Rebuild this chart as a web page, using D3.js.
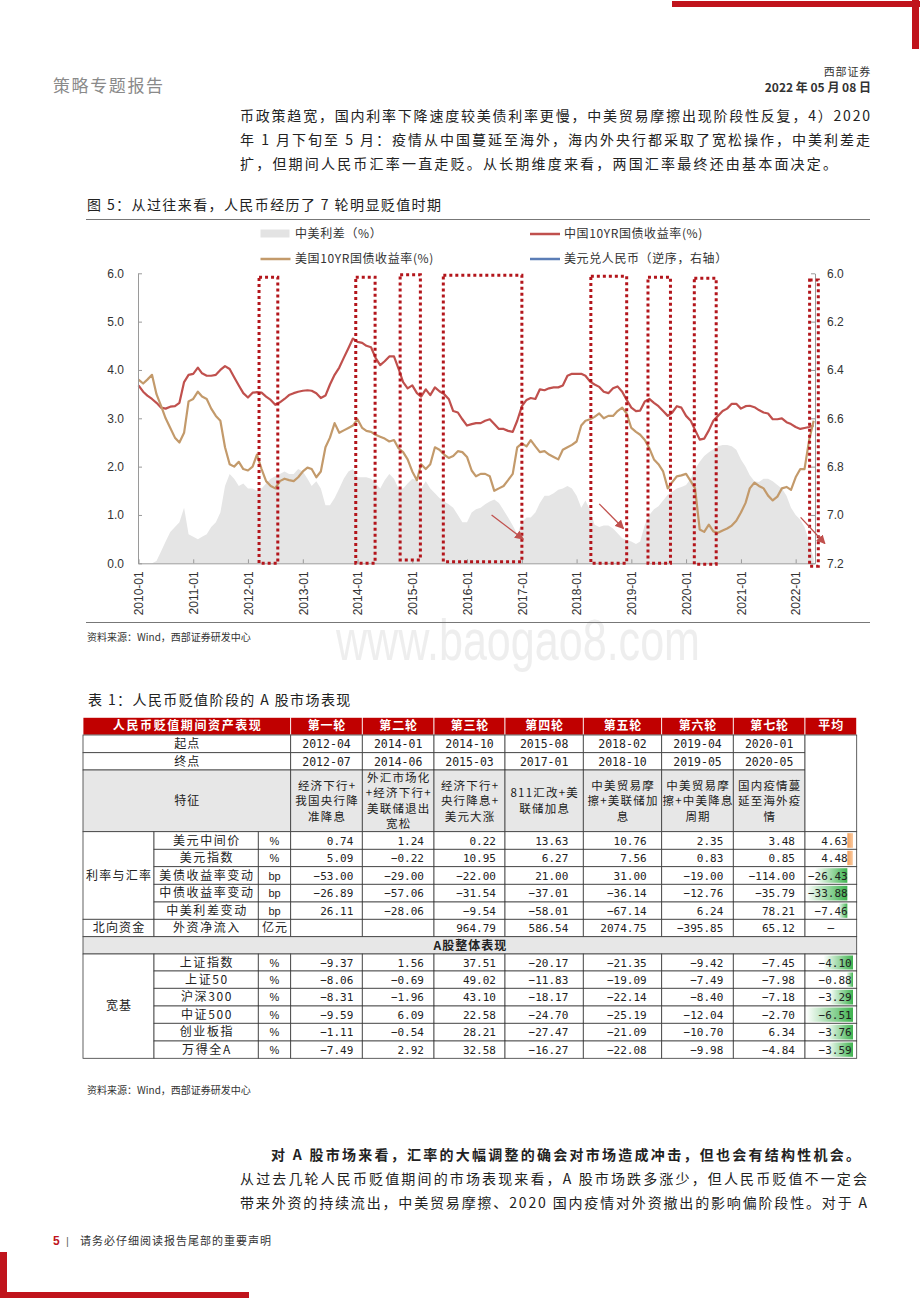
<!DOCTYPE html>
<html><head><meta charset="utf-8">
<script src="https://cdn.jsdelivr.net/npm/d3@7"></script>
<style>body{margin:0;background:#fff} svg{display:block}</style>
</head><body>
<svg id="page" width="920" height="1302"></svg>
<script>
// ---------------- DATA ----------------
const firstMonth = "2010-01", lastMonth = "2022-05";
const cn10y = [3.68,3.55,3.47,3.40,3.32,3.22,3.20,3.24,3.25,3.32,3.75,3.90,3.92,4.05,3.93,3.88,3.88,3.90,4.00,4.08,4.02,3.85,3.68,3.52,3.43,3.53,3.54,3.53,3.45,3.38,3.28,3.33,3.40,3.48,3.52,3.55,3.57,3.58,3.57,3.52,3.42,3.47,3.70,3.90,4.05,4.25,4.45,4.65,4.58,
4.56,4.50,4.47,4.25,4.10,4.18,4.28,4.28,4.03,3.75,3.62,3.68,3.52,3.45,3.60,3.48,3.64,3.56,3.50,3.40,3.15,3.12,2.98,2.85,2.88,2.90,2.90,2.95,2.98,2.88,2.78,2.78,2.74,2.72,2.95,3.25,3.38,3.42,3.40,3.60,3.58,3.62,3.64,3.64,3.68,3.88,3.92,3.92,
3.92,3.88,3.76,3.70,3.65,3.55,3.52,3.62,3.66,3.55,3.38,3.22,3.15,3.16,3.35,3.40,3.32,3.25,3.15,3.05,3.12,3.25,3.22,3.05,2.95,2.76,2.56,2.58,2.75,2.95,3.05,3.15,3.20,3.30,3.30,3.20,3.25,3.26,3.23,3.17,3.12,3.10,2.98,2.98,3.00,2.92,2.88,2.82,2.78,2.80,2.82,2.85];
const us10y = [3.80,3.72,3.80,3.90,3.50,3.25,3.00,2.80,2.60,2.50,2.70,3.35,3.40,3.55,3.45,3.40,3.20,3.05,2.95,2.40,2.05,2.00,2.10,1.95,1.92,2.00,2.25,1.95,1.70,1.60,1.55,1.70,1.75,1.72,1.70,1.78,1.90,1.98,1.95,1.78,1.90,2.40,2.60,2.90,2.70,2.75,2.80,2.85,2.98,
2.80,2.74,2.72,2.66,2.62,2.58,2.52,2.55,2.38,2.30,2.15,1.90,1.72,2.05,1.95,2.05,2.40,2.35,2.25,2.18,2.22,2.32,2.30,2.20,1.92,1.80,1.85,1.85,1.80,1.50,1.55,1.60,1.72,1.85,2.40,2.48,2.42,2.55,2.42,2.30,2.32,2.25,2.20,2.15,2.35,2.40,2.45,2.52,
2.85,2.95,2.98,3.03,3.10,3.00,3.05,3.05,3.15,3.22,3.10,2.80,2.72,2.66,2.55,2.38,2.15,2.05,1.90,1.55,1.68,1.80,1.82,1.85,1.70,1.55,0.70,0.65,0.80,0.66,0.63,0.68,0.72,0.78,0.88,1.05,1.25,1.55,1.67,1.60,1.55,1.40,1.30,1.38,1.55,1.58,1.52,1.78,1.95,1.95,2.55,2.95];
const spreadCU = [0,0,0,0,0.05,0.25,0.45,0.65,0.75,0.85,1.15,0.6,0.55,0.5,0.55,0.6,0.75,0.85,1.05,1.6,1.85,1.75,1.6,1.65,1.55,1.55,1.5,1.55,1.65,1.75,1.8,1.85,1.9,1.85,1.85,1.95,1.9,1.75,1.6,1.7,1.55,1.2,1.2,1.35,1.55,1.75,1.9,1.95,1.78,
1.78,1.78,1.75,1.65,1.55,1.72,1.85,1.75,1.55,1.55,1.65,1.75,1.72,1.55,1.70,1.55,1.45,1.35,1.28,1.22,1.15,1.00,0.85,0.85,1.05,1.12,1.15,1.22,1.28,1.32,1.25,1.10,0.95,0.78,0.60,0.85,0.95,0.95,1.05,1.25,1.40,1.40,1.45,1.52,1.55,1.60,1.55,1.40,1.15,
1.30,1.10,0.80,0.75,0.78,0.78,0.72,0.62,0.52,0.48,0.45,0.40,0.45,0.80,1.00,1.12,1.18,1.30,1.42,1.48,1.55,1.58,1.62,1.75,1.95,2.10,2.22,2.30,2.36,2.42,2.45,2.45,2.42,2.35,2.15,2.00,1.82,1.70,1.68,1.75,1.75,1.70,1.62,1.55,1.40,1.15,1.00,0.90,0.75,0.45,0.10];
// depreciation windows (dates, left-axis values)
const boxStart = ["2012-03-15","2013-12-20","2014-10-12","2015-07-27","2018-04-06","2019-04-22","2020-02-25","2022-04-04"];
const boxEnd   = ["2012-07-18","2014-04-28","2015-02-24","2017-01-01","2018-12-01","2019-09-19","2020-07-20","2022-06-01"];
const boxTop   = [5.92,5.92,5.97,5.96,5.94,5.92,5.90,5.86];
const boxBottom= [0,0,0.07,0.03,0,0,-0.02,-0.06];
const arrowFrom = [["2016-06-13",1.0],["2018-06-01",1.23],["2022-02-03",0.95]];
const arrowTo   = [["2017-01-10",0.5],["2018-11-10",0.72],["2022-07-15",0.41]];
const leftTicks = [0,1,2,3,4,5,6];
const rightTicks = [6.0,6.2,6.4,6.6,6.8,7.0,7.2];
const xTickLabels = ["2010-01","2011-01","2012-01","2013-01","2014-01","2015-01","2016-01","2017-01","2018-01","2019-01","2020-01","2021-01","2022-01"];
const legendLabels = ["中美利差（%）","中国10YR国债收益率(%)","美国10YR国债收益率(%)","美元兑人民币（逆序，右轴）"];

// table data
const rounds = ["第一轮","第二轮","第三轮","第四轮","第五轮","第六轮","第七轮"];
const startDates = ["2012-04","2014-01","2014-10","2015-08","2018-02","2019-04","2020-01"];
const endDates = ["2012-07","2014-06","2015-03","2017-01","2018-10","2019-05","2020-05"];
const features = [["经济下行+","我国央行降","准降息"],["外汇市场化","+经济下行+","美联储退出","宽松"],["经济下行+","央行降息+","美元大涨"],["811汇改+美","联储加息"],["中美贸易摩","擦+美联储加","息"],["中美贸易摩","擦+中美降息","周期"],["国内疫情蔓","延至海外疫","情"]];
const rateNames = ["美元中间价","美元指数","美债收益率变动","中债收益率变动","中美利差变动"];
const rateUnits = ["%","%","bp","bp","bp"];
const rateValues = [[0.74,1.24,0.22,13.63,10.76,2.35,3.48],[5.09,-0.22,10.95,6.27,7.56,0.83,0.85],[-53.00,-29.00,-22.00,21.00,31.00,-19.00,-114.00],[-26.89,-57.06,-31.54,-37.01,-36.14,-12.76,-35.79],[26.11,-28.06,-9.54,-58.01,-67.14,6.24,78.21]];
const rateAvg = [4.63,4.48,-26.43,-33.88,-7.46];
const northValues = [null,null,964.79,586.54,2074.75,-395.85,65.12];
const shareNames = ["上证指数","上证50","沪深300","中证500","创业板指","万得全A"];
const shareValues = [[-9.37,1.56,37.51,-20.17,-21.35,-9.42,-7.45],[-8.06,-0.69,49.02,-11.83,-19.09,-7.49,-7.98],[-8.31,-1.96,43.10,-18.17,-22.14,-8.40,-7.18],[-9.59,6.09,22.58,-24.70,-25.19,-12.04,-2.70],[-1.11,-0.54,28.21,-27.47,-21.09,-10.70,6.34],[-7.49,2.92,32.58,-16.27,-22.08,-9.98,-4.84]];
const shareAvg = [-4.10,-0.88,-3.29,-6.51,-3.76,-3.59];

// ---------------- DRAW ----------------
const CJK = "'Noto Sans CJK SC','Noto Sans',sans-serif";
const LAT = "'Liberation Sans',Arial,sans-serif";
const MONO = "'DejaVu Sans Mono',monospace";
const RED = "#c0141c";
const svg = d3.select("#page");
svg.append("rect").attr("width",920).attr("height",1302).attr("fill","#fff");
const defs = svg.append("defs");

// page decorations
svg.append("rect").attr("x",672).attr("y",1).attr("width",248).attr("height",6).attr("fill",RED);
svg.append("rect").attr("x",912).attr("y",0).attr("width",7).attr("height",49).attr("fill",RED);
svg.append("rect").attr("x",0).attr("y",1252).attr("width",7).attr("height",46).attr("fill",RED);
svg.append("rect").attr("x",0).attr("y",1292).attr("width",249).attr("height",6).attr("fill",RED);

function txt(x,y,s,o={}){
  const t = svg.append("text").attr("x",x).attr("y",y).text(s)
    .attr("font-family",o.ff||CJK).attr("font-size",o.fs||14).attr("fill",o.fill||"#222")
    .attr("font-weight",o.fw||"normal").attr("text-anchor",o.anchor||"start");
  if(o.tl){t.attr("textLength",o.tl).attr("lengthAdjust","spacing");}
  if(o.ls){t.attr("letter-spacing",o.ls);}
  return t;
}
txt(53,92,"策略专题报告",{fs:17,fill:"#8a8a8a",ls:1.6});
txt(871,76,"西部证券",{fs:11,fill:"#333",anchor:"end",ls:0.8});
txt(871,92,"2022 年 05 月 08 日",{fs:12,fill:"#333",anchor:"end",fw:"bold"});

txt(240,121,"币政策趋宽，国内利率下降速度较美债利率更慢，中美贸易摩擦出现阶段性反复，4）2020",{tl:630});
txt(240,145,"年 1 月下旬至 5 月：疫情从中国蔓延至海外，海内外央行都采取了宽松操作，中美利差走",{tl:630});
txt(240,169,"扩，但期间人民币汇率一直走贬。从长期维度来看，两国汇率最终还由基本面决定。",{tl:597});

txt(87,210,"图 5：从过往来看，人民币经历了 7 轮明显贬值时期",{tl:354});
svg.append("line").attr("x1",86).attr("x2",870).attr("y1",219.5).attr("y2",219.5).attr("stroke","#777").attr("stroke-width",1);

// watermark
svg.append("text").attr("x",336).attr("y",660).text("www.baogao8.com")
  .attr("font-family",LAT).attr("font-size",58).attr("fill","#e8e8e8").attr("fill-opacity",0.75)
  .attr("textLength",364).attr("lengthAdjust","spacingAndGlyphs");

svg.append("line").attr("x1",86).attr("x2",870).attr("y1",622.5).attr("y2",622.5).attr("stroke","#777").attr("stroke-width",1);
txt(87,641,"资料来源：Wind，西部证券研发中心",{fs:10,fill:"#333"});

// legend
const lg = svg.append("g").attr("font-family",CJK).attr("font-size",12).attr("fill","#333");
lg.append("rect").attr("x",260.5).attr("y",229.5).attr("width",29).attr("height",8).attr("fill","#e3e3e3");
lg.append("line").attr("x1",530).attr("x2",560).attr("y1",234).attr("y2",234).attr("stroke","#c0504d").attr("stroke-width",2.5);
lg.append("line").attr("x1",260.5).attr("x2",290.5).attr("y1",259).attr("y2",259).attr("stroke","#c39a6b").attr("stroke-width",2.5);
lg.append("line").attr("x1",530).attr("x2",560).attr("y1",259).attr("y2",259).attr("stroke","#5b7db6").attr("stroke-width",2.5);
[[295,238],[564,238],[295,263],[564,263]].forEach((p,i)=>{
  lg.append("text").attr("x",p[0]).attr("y",p[1]).attr("letter-spacing",0.6).text(legendLabels[i]);
});

// scales
const parseM = d3.timeParse("%Y-%m"), parseD = d3.timeParse("%Y-%m-%d");
const months = d3.timeMonth.range(parseM(firstMonth), d3.timeMonth.offset(parseM(lastMonth),1));
const x = d3.scaleTime().domain([parseM("2010-01"), parseD("2022-05-10")]).range([138.5,815]);
const yL = d3.scaleLinear().domain([0,6]).range([563.3,273.3]);
const yR = d3.scaleLinear().domain([6,7.2]).range([273.3,563.3]);

const chart = svg.append("g");
const spreadData = months.map((d,i)=>({d, v:spreadCU[i]}));
chart.append("path").datum(spreadData)
  .attr("d", d3.area().x(p=>x(p.d)).y0(yL(0)).y1(p=>yL(p.v)))
  .attr("fill","#e5e5e5");
const lineGen = d3.line().x(p=>x(p.d)).y(p=>yL(p.v));
chart.append("path").datum(months.map((d,i)=>({d,v:cn10y[i]})))
  .attr("d",lineGen).attr("fill","none").attr("stroke","#c0504d").attr("stroke-width",2.2).attr("stroke-linejoin","round");
chart.append("path").datum(months.map((d,i)=>({d,v:us10y[i]})))
  .attr("d",lineGen).attr("fill","none").attr("stroke","#c39a6b").attr("stroke-width",2.2).attr("stroke-linejoin","round");

// axes
function styleAxis(g){
  g.select(".domain").attr("stroke","#9a9a9a");
  g.selectAll(".tick line").attr("stroke","#9a9a9a");
  g.selectAll("text").attr("font-family",LAT).attr("font-size",12).attr("fill","#333");
}
svg.append("g").attr("transform","translate(138,0)")
  .call(d3.axisLeft(yL).tickValues(leftTicks).tickFormat(d3.format(".1f")).tickSize(-4).tickSizeOuter(0).tickPadding(14))
  .call(styleAxis);
svg.append("g").attr("transform","translate(815,0)")
  .call(d3.axisRight(yR).tickValues(rightTicks).tickFormat(d3.format(".1f")).tickSize(-4).tickSizeOuter(0).tickPadding(12))
  .call(styleAxis);
const xa = svg.append("g").attr("transform","translate(0,563.3)")
  .call(d3.axisBottom(x).tickValues(xTickLabels.map(parseM)).tickFormat(d3.timeFormat("%Y-%m")).tickSize(-4).tickSizeOuter(0))
  .call(styleAxis);
xa.selectAll("text").attr("transform","rotate(-90)").attr("x",-8).attr("y",0).attr("dy","0.35em").attr("text-anchor","end");

// dotted boxes
const boxG = svg.append("g");
boxStart.forEach((s,i)=>{
  const x0 = x(parseD(s)), x1 = x(parseD(boxEnd[i]));
  const y0 = yL(boxTop[i]), y1 = yL(boxBottom[i]);
  boxG.append("rect").attr("x",x0).attr("y",y0).attr("width",x1-x0).attr("height",y1-y0)
    .attr("fill","none").attr("stroke","#b3151b").attr("stroke-width",3).attr("stroke-dasharray","3 3");
});
// arrows
defs.append("marker").attr("id","ah").attr("viewBox","0 0 10 10").attr("refX",9).attr("refY",5)
  .attr("markerWidth",9).attr("markerHeight",9).attr("markerUnits","userSpaceOnUse").attr("orient","auto")
  .append("path").attr("d","M0,0L10,5L0,10Z").attr("fill","#c0504d");
arrowFrom.forEach((a,i)=>{
  const b = arrowTo[i];
  svg.append("line").attr("x1",x(parseD(a[0]))).attr("y1",yL(a[1])).attr("x2",x(parseD(b[0]))).attr("y2",yL(b[1]))
    .attr("stroke","#c0504d").attr("stroke-width",1.3).attr("marker-end","url(#ah)");
});

// ---------------- TABLE ----------------
txt(88,705,"表 1：人民币贬值阶段的 A 股市场表现",{fs:14,ls:1.4});
const colX=[83,154,258.3,290.7,362.3,434,505,583.3,661.7,733.3,805,856.7];
const rowY=[717.3,735,752.7,770,831.7,849.3,866.7,884.3,902,919.3,936.7,954,971,988.3,1006,1023.3,1041,1058.3];
const padR=[0,0,0,9,10,9,15,15,10,10,9];
const gR = svg.append("g"), gB = svg.append("g"), gT = svg.append("g");
function cell(c0,c1,r0,r1,o={}){
  const x0=colX[c0],x1=colX[c1],y0=rowY[r0],y1=rowY[r1];
  gR.append("rect").attr("x",x0).attr("y",y0).attr("width",x1-x0).attr("height",y1-y0)
    .attr("fill",o.fill||"#fff").attr("stroke",o.stroke||"#3a3a3a").attr("stroke-width",0.8);
  if(o.text==null) return;
  const lines = Array.isArray(o.text)?o.text:[o.text];
  const lh=15.5, yc=(y0+y1)/2;
  lines.forEach((s,k)=>{
    const t=gT.append("text").text(s)
      .attr("y", yc-(lines.length-1)/2*lh + k*lh + 4.3)
      .attr("font-family",o.ff||CJK).attr("font-size",o.fs||12)
      .attr("fill",o.color||"#222").attr("font-weight",o.bold?"bold":"normal");
    if(o.align==="end"){t.attr("x",x1-padR[c0]).attr("text-anchor","end");}
    else{t.attr("x",(x0+x1)/2+(o.ls?o.ls/2:0)).attr("text-anchor","middle");}
    if(o.ls) t.attr("letter-spacing",o.ls);
  });
}
const f2 = d3.format(".2f");
// header
cell(0,3,0,1,{fill:"#c00000",stroke:"#fff",text:"人民币贬值期间资产表现",color:"#fff",bold:true,ls:1.6});
rounds.forEach((r,i)=>cell(3+i,4+i,0,1,{fill:"#c00000",stroke:"#fff",text:r,color:"#fff",bold:true,ls:0.8}));
cell(10,11,0,1,{fill:"#c00000",stroke:"#fff",text:"平均",color:"#fff",bold:true,ls:1});
// start / end / feature
cell(0,3,1,2,{text:"起点",ls:1});
cell(0,3,2,3,{text:"终点",ls:1});
cell(0,3,3,4,{fill:"#e7e7e7",text:"特征",ls:1});
startDates.forEach((s,i)=>cell(3+i,4+i,1,2,{text:s,ff:MONO,fs:11.5}));
endDates.forEach((s,i)=>cell(3+i,4+i,2,3,{text:s,ff:MONO,fs:11.5}));
features.forEach((f,i)=>cell(3+i,4+i,3,4,{fill:"#e7e7e7",text:f,fs:11.5,ls:1.2}));
cell(10,11,1,4,{});
// rates
cell(0,1,4,9,{text:"利率与汇率",ls:1.2});
rateNames.forEach((n,j)=>{
  cell(1,2,4+j,5+j,{text:n,ls:1.6});
  cell(2,3,4+j,5+j,{text:rateUnits[j],ff:LAT,fs:11});
  rateValues[j].forEach((v,i)=>cell(3+i,4+i,4+j,5+j,{text:f2(v),align:"end",ff:MONO,fs:11}));
  cell(10,11,4+j,5+j,{});
});
// north
cell(0,1,9,10,{text:"北向资金",ls:1.2});
cell(1,2,9,10,{text:"外资净流入",ls:1.6});
cell(2,3,9,10,{text:"亿元",ls:1});
northValues.forEach((v,i)=>cell(3+i,4+i,9,10,v==null?{}:{text:f2(v),align:"end",ff:MONO,fs:11}));
cell(10,11,9,10,{text:"–",ff:LAT});
// A share
cell(0,11,10,11,{fill:"#e7e7e7",text:"A股整体表现",bold:true,ls:1});
cell(0,1,11,17,{text:"宽基",ls:1.2});
shareNames.forEach((n,j)=>{
  cell(1,2,11+j,12+j,{text:n,ls:1.6});
  cell(2,3,11+j,12+j,{text:"%",ff:LAT,fs:11});
  shareValues[j].forEach((v,i)=>cell(3+i,4+i,11+j,12+j,{text:f2(v),align:"end",ff:MONO,fs:11}));
  cell(10,11,11+j,12+j,{});
});

// data bars in average column
const gNeg = defs.append("linearGradient").attr("id","gNeg").attr("x1",0).attr("x2",1).attr("y1",0).attr("y2",0);
gNeg.append("stop").attr("offset",0).attr("stop-color","#ffffff");
gNeg.append("stop").attr("offset",1).attr("stop-color","#3fb34f");
const gPos = defs.append("linearGradient").attr("id","gPos").attr("x1",0).attr("x2",1).attr("y1",0).attr("y2",0);
gPos.append("stop").attr("offset",0).attr("stop-color","#f4a05a");
gPos.append("stop").attr("offset",1).attr("stop-color","#f9c9a0");
function bars(vals, r0){
  const s = d3.scaleLinear().domain([Math.min(0,d3.min(vals)), Math.max(0,d3.max(vals))]).range([806,853]);
  vals.forEach((v,j)=>{
    const a=s(0), b=s(v);
    gB.append("rect").attr("x",Math.min(a,b)).attr("y",rowY[r0+j]+1.5).attr("width",Math.abs(b-a))
      .attr("height",rowY[r0+j+1]-rowY[r0+j]-3).attr("fill",v<0?"url(#gNeg)":"url(#gPos)");
  });
}
bars(rateAvg,4);
bars(shareAvg,11);
rateAvg.forEach((v,j)=>gT.append("text").text(f2(v)).attr("x",colX[11]-padR[10]).attr("y",(rowY[4+j]+rowY[5+j])/2+4.3)
  .attr("text-anchor","end").attr("font-family",MONO).attr("font-size",11).attr("fill","#222"));
shareAvg.forEach((v,j)=>gT.append("text").text(f2(v)).attr("x",colX[11]-5).attr("y",(rowY[11+j]+rowY[12+j])/2+4.3)
  .attr("text-anchor","end").attr("font-family",MONO).attr("font-size",11).attr("fill","#222"));

txt(87,1094,"资料来源：Wind，西部证券研发中心",{fs:10,fill:"#333"});

// bottom body text
txt(271,1160,"对 A 股市场来看，汇率的大幅调整的确会对市场造成冲击，但也会有结构性机会。",{fw:"bold",tl:589});
txt(240,1184,"从过去几轮人民币贬值期间的市场表现来看，A 股市场跌多涨少，但人民币贬值不一定会",{tl:627});
txt(240,1208,"带来外资的持续流出，中美贸易摩擦、2020 国内疫情对外资撤出的影响偏阶段性。对于 A",{tl:627});

// footer
txt(53,1245,"5",{fs:12,fw:"bold",fill:RED,ff:LAT});
txt(66,1245,"|",{fs:11,fill:"#666",ff:LAT});
txt(80,1245,"请务必仔细阅读报告尾部的重要声明",{fs:11,fill:"#333",ls:1});
</script>
</body></html>
